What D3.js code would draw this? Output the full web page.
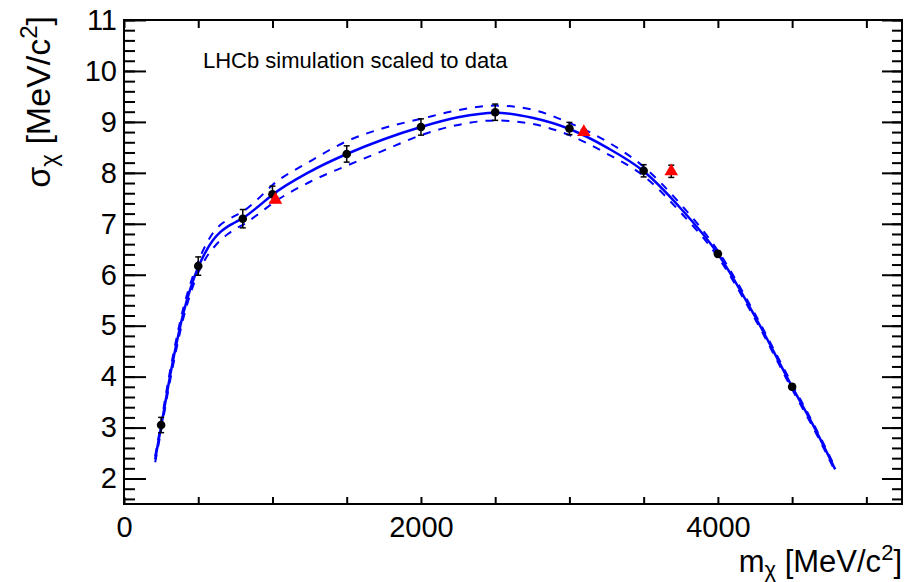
<!DOCTYPE html>
<html>
<head>
<meta charset="utf-8">
<script src="https://cdn.jsdelivr.net/npm/d3@7"></script>
<style>
  html, body { margin: 0; padding: 0; background: #fff; }
  svg text { font-family: "Liberation Sans", Arial, Helvetica, sans-serif; fill: #000; }
</style>
</head>
<body>
<svg id="chart" width="904" height="582"></svg>
<script>
// ---- data ----
const mass   = [250, 500, 800, 1000, 1500, 2000, 2500, 3000, 3500, 4000, 4500];
const sigma  = [3.05, 6.17, 7.10, 7.58, 8.37, 8.90, 9.19, 8.87, 8.04, 6.41, 3.80];
const sigErr = [0.15, 0.18, 0.18, 0.16, 0.16, 0.16, 0.16, 0.12, 0.12, 0.05, 0.05];

const resMass  = [1020, 3097, 3686];
const resSigma = [7.47, 8.80, 8.03];
const resErr   = [0.05, 0.05, 0.12];

const curveMass  = [210, 250, 300, 350, 400, 450, 500, 550, 600, 650, 700, 750, 800, 900, 1000, 1250, 1500, 1750, 2000, 2250, 2500, 2750, 3000, 3250, 3500, 3750, 4000, 4250, 4500, 4650, 4790];
const curveSigma = [2.38, 3.02, 3.85, 4.60, 5.25, 5.75, 6.15, 6.45, 6.68, 6.84, 6.95, 7.03, 7.11, 7.33, 7.57, 8.02, 8.37, 8.66, 8.90, 9.09, 9.18, 9.08, 8.86, 8.50, 8.03, 7.30, 6.41, 5.18, 3.80, 3.00, 2.18];
const upperSigma = [2.44, 3.10, 3.95, 4.70, 5.35, 5.85, 6.26, 6.58, 6.82, 6.98, 7.08, 7.16, 7.24, 7.48, 7.76, 8.22, 8.62, 8.88, 9.06, 9.23, 9.32, 9.24, 8.98, 8.62, 8.12, 7.38, 6.47, 5.23, 3.85, 3.04, 2.22];
const lowerSigma = [2.32, 2.94, 3.76, 4.50, 5.15, 5.65, 6.04, 6.32, 6.52, 6.68, 6.80, 6.90, 6.98, 7.18, 7.40, 7.82, 8.14, 8.44, 8.74, 8.94, 9.03, 8.96, 8.74, 8.38, 7.94, 7.22, 6.35, 5.13, 3.75, 2.95, 2.14];

const xTicks = [0, 500, 1000, 1500, 2000, 2500, 3000, 3500, 4000, 4500, 5000];
const xLabels = [0, 2000, 4000];
const yTicks = [2, 3, 4, 5, 6, 7, 8, 9, 10, 11];

// ---- layout ----
const L = 124, R = 902, T = 20, B = 504;
const svg = d3.select("#chart");
const x = d3.scaleLinear().domain([0, 5240]).range([L, R]);
const y = d3.scaleLinear().domain([1.5, 11]).range([B, T]);
const minorY = d3.range(16, 111, 2).map(v => v / 10);

// frame
svg.append("rect").attr("x", L).attr("y", T).attr("width", R - L).attr("height", B - T)
  .attr("fill", "none").attr("stroke", "#000").attr("stroke-width", 2);

function styleAxis(g) {
  g.select(".domain").remove();
  g.selectAll(".tick line").attr("stroke", "#000").attr("stroke-width", 2);
}

// bottom axis
svg.append("g").attr("transform", `translate(0,${B})`)
  .call(d3.axisBottom(x).tickValues(xTicks).tickSize(-7).tickPadding(12)
    .tickFormat(d => xLabels.includes(d) ? d : ""))
  .call(styleAxis)
  .call(g => g.selectAll("text").attr("font-size", 29).attr("font-family", "Liberation Sans, Arial, sans-serif"));
// top axis
svg.append("g").attr("transform", `translate(0,${T})`)
  .call(d3.axisTop(x).tickValues(xTicks).tickSize(-8).tickFormat(""))
  .call(styleAxis);
// left axis minor
svg.append("g").attr("transform", `translate(${L},0)`)
  .call(d3.axisLeft(y).tickValues(minorY).tickSize(-11).tickFormat(""))
  .call(styleAxis);
// left axis major
svg.append("g").attr("transform", `translate(${L},0)`)
  .call(d3.axisLeft(y).tickValues(yTicks).tickSize(-22).tickPadding(7).tickFormat(d3.format("d")))
  .call(styleAxis)
  .call(g => g.selectAll("text").attr("font-size", 29).attr("font-family", "Liberation Sans, Arial, sans-serif"));
// right axis
svg.append("g").attr("transform", `translate(${R},0)`)
  .call(d3.axisRight(y).tickValues(minorY).tickSize(-10).tickFormat(""))
  .call(styleAxis);
svg.append("g").attr("transform", `translate(${R},0)`)
  .call(d3.axisRight(y).tickValues(yTicks).tickSize(-20).tickFormat(""))
  .call(styleAxis);

// curves
const line = d3.line().x(d => x(d[0])).y(d => y(d[1])).curve(d3.curveMonotoneX);
const plot = svg.append("g");
plot.append("path").datum(d3.zip(curveMass, upperSigma)).attr("d", line)
  .attr("fill", "none").attr("stroke", "#0000ff").attr("stroke-width", 2).attr("stroke-dasharray", "8,8");
plot.append("path").datum(d3.zip(curveMass, lowerSigma)).attr("d", line)
  .attr("fill", "none").attr("stroke", "#0000ff").attr("stroke-width", 2).attr("stroke-dasharray", "8,8");
plot.append("path").datum(d3.zip(curveMass, curveSigma)).attr("d", line)
  .attr("fill", "none").attr("stroke", "#0000ff").attr("stroke-width", 2.5);

// error bars (data)
function errBars(ms, ss, es) {
  const g = plot.append("g").attr("stroke", "#000").attr("stroke-width", 1.5);
  ms.forEach((m, i) => {
    const cx = x(m), y1 = y(ss[i] + es[i]), y2 = y(ss[i] - es[i]);
    g.append("line").attr("x1", cx).attr("x2", cx).attr("y1", y1).attr("y2", y2);
    g.append("line").attr("x1", cx - 3).attr("x2", cx + 3).attr("y1", y1).attr("y2", y1);
    g.append("line").attr("x1", cx - 3).attr("x2", cx + 3).attr("y1", y2).attr("y2", y2);
  });
}
errBars(mass, sigma, sigErr);
errBars(resMass, resSigma, resErr);

plot.selectAll("circle.pt").data(d3.zip(mass, sigma)).join("circle")
  .attr("class", "pt").attr("cx", d => x(d[0])).attr("cy", d => y(d[1])).attr("r", 4.3).attr("fill", "#000");

plot.selectAll("path.tri").data(d3.zip(resMass, resSigma)).join("path")
  .attr("class", "tri")
  .attr("transform", d => `translate(${x(d[0])},${y(d[1])})`)
  .attr("d", d3.symbol(d3.symbolTriangle, 80))
  .attr("fill", "#ff0000");

// legend text
svg.append("text").attr("x", 203).attr("y", 68).attr("font-size", 22)
  .text("LHCb simulation scaled to data");

// axis titles
const xt = svg.append("text").attr("x", R).attr("y", 572).attr("text-anchor", "end").attr("font-size", 31);
xt.append("tspan").text("m");
xt.append("tspan").attr("font-size", 22).attr("dy", 5).text("χ");
xt.append("tspan").attr("dy", -5).text(" [MeV/c");
xt.append("tspan").attr("font-size", 22).attr("dy", -12).text("2");
xt.append("tspan").attr("dy", 12).text("]");

const yt = svg.append("text").attr("transform", `translate(50,${T - 4}) rotate(-90)`).attr("text-anchor", "end").attr("font-size", 34);
yt.append("tspan").text("σ");
yt.append("tspan").attr("font-size", 24).attr("dy", 7).text("χ");
yt.append("tspan").attr("dy", -7).text(" [MeV/c");
yt.append("tspan").attr("font-size", 24).attr("dy", -13).text("2");
yt.append("tspan").attr("dy", 13).text("]");
</script>
</body>
</html>
